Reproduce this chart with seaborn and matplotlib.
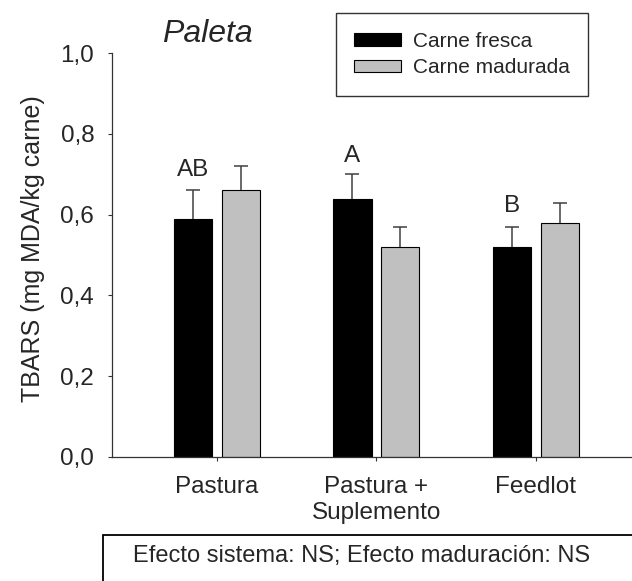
import matplotlib
matplotlib.use("Agg")
import matplotlib.pyplot as plt
from matplotlib.patches import Rectangle
import seaborn as sns
import pandas as pd

# TBARS means and standard errors per production system and meat type
sistemas = ["Pastura", "Pastura +\nSuplemento", "Feedlot"]
tipos = ["Carne fresca", "Carne madurada"]
media_fresca = [0.59, 0.64, 0.52]
media_madurada = [0.66, 0.52, 0.58]
ee_fresca = [0.07, 0.06, 0.05]
ee_madurada = [0.06, 0.04, 0.05]
letras_fresca = ["AB", "A", "B"]
letras_y = [0.696, 0.730, 0.607]
yticks = [0.0, 0.2, 0.4, 0.6, 0.8, 1.0]
ytick_labels = ["0,0", "0,2", "0,4", "0,6", "0,8", "1,0"]

df = pd.DataFrame({
    "sistema": sistemas * 2,
    "carne": [tipos[0]] * 3 + [tipos[1]] * 3,
    "tbars": media_fresca + media_madurada,
    "ee": ee_fresca + ee_madurada,
})

sns.set_style("ticks")
plt.rcParams["font.family"] = ["Liberation Sans", "DejaVu Sans"]

W, H = 632, 581
fig = plt.figure(figsize=(W / 100, H / 100), dpi=100)
ax = fig.add_axes([112.3 / W, 1 - 456.7 / H, 1 - 112.3 / W, (456.7 - 53.3) / H])

sns.barplot(data=df, x="sistema", y="tbars", hue="carne", order=sistemas,
            hue_order=tipos, palette=["black", "#c0c0c0"], width=0.6, gap=0.2,
            errorbar=None, edgecolor="black", linewidth=0.8, ax=ax)

# one-sided error bars on top of each bar (stem plus upper cap only)
bars = [p for p in ax.patches if p.get_height() > 0]
bars = sorted(bars, key=lambda p: p.get_x())
for p in bars:
    cx = p.get_x() + p.get_width() / 2
    h = p.get_height()
    err = float(df.loc[df["tbars"] == h, "ee"].iloc[0])
    ax.vlines(cx, h, h + err, color="#404040", linewidth=1.1, zorder=3)
    ax.plot([cx], [h + err], marker="_", markersize=10, markeredgewidth=1.1,
            color="#404040", zorder=3)

# significance letters above the fresh-meat bars
fresca_bars = [p for p in bars if p.get_facecolor()[0] < 0.5]
for p, txt, ly in zip(fresca_bars, letras_fresca, letras_y):
    ax.text(p.get_x() + p.get_width() / 2, ly, txt, ha="center", va="baseline",
            fontsize=17.5)

ax.set_ylim(0, 1.0)
ax.set_xlim(-0.655, 2.603)
ax.set_yticks(yticks)
ax.set_yticklabels(ytick_labels)
ax.tick_params(axis="both", labelsize=17.5, length=3, width=0.8, color="#333333")
ax.tick_params(axis="y", pad=10)
ax.tick_params(axis="x", pad=11)
ax.set_xlabel("")
ax.set_ylabel("TBARS (mg MDA/kg carne)", fontsize=18)
ax.yaxis.set_label_coords(-0.1295, 0.517)
for s in ["top", "right"]:
    ax.spines[s].set_visible(False)
for s in ["left", "bottom"]:
    ax.spines[s].set_color("#333333")
    ax.spines[s].set_linewidth(0.9)

handles, labels = ax.get_legend_handles_labels()
ax.get_legend().remove()
leg = fig.legend(handles, labels, loc="upper left",
                 bbox_to_anchor=(335.7 / W, 1 - 13.3 / H), fontsize=15,
                 frameon=True, fancybox=False, edgecolor="black",
                 borderpad=0.9, labelspacing=0.35, handlelength=2.25,
                 handleheight=0.55, handletextpad=0.55, borderaxespad=0)
leg.get_frame().set_linewidth(1.0)

fig.text(162 / W, 1 - 41.7 / H, "Paleta", fontsize=23, style="italic",
         ha="left", va="baseline")

# summary box at the bottom
fig.patches.append(Rectangle((103 / W, -0.05), 1.0, (581 - 535) / H + 0.05,
                             transform=fig.transFigure, facecolor="white",
                             edgecolor="black", linewidth=1.3))
fig.text(362 / W, 1 - 562 / H, "Efecto sistema: NS; Efecto maduración: NS",
         fontsize=17, ha="center", va="baseline")

fig.savefig("out.png", dpi=100)
